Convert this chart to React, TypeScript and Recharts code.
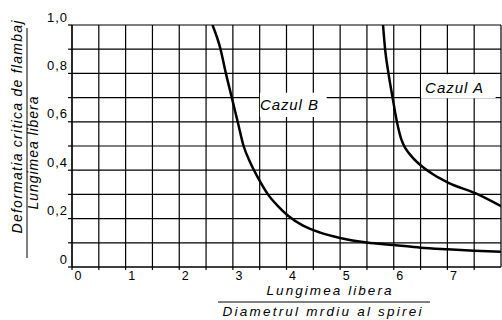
import React from 'react';
import {
  ComposedChart,
  Line,
  XAxis,
  YAxis,
  CartesianGrid,
  ReferenceArea,
} from 'recharts';

// grid / tick values
const xTicks = [0, 0.5, 1, 1.5, 2, 2.5, 3, 3.5, 4, 4.5, 5, 5.5, 6, 6.5, 7, 7.5];
const xTickLabels = ['0', '', '1', '', '2', '', '3', '', '4', '', '5', '', '6', '', '7', ''];
const yTicks = [0, 0.1, 0.2, 0.3, 0.4, 0.5, 0.6, 0.7, 0.8, 0.9, 1.0];
const yTickLabels = ['0', '', '0,2', '', '0,4', '', '0,6', '', '0,8', '', '1,0'];

// Cazul B
const caseBX = [2.62, 2.77, 2.87, 2.98, 3.09, 3.2, 3.32, 3.47, 3.66, 3.84, 4.03, 4.31, 4.63, 5.0, 5.5, 6.0, 6.5, 7.0, 7.5, 8.0];
const caseBY = [1.0, 0.9, 0.8, 0.7, 0.6, 0.5, 0.434, 0.368, 0.298, 0.252, 0.212, 0.171, 0.142, 0.12, 0.101, 0.091, 0.08, 0.073, 0.067, 0.063];

// Cazul A
const caseAX = [5.8, 5.84, 5.9, 5.98, 6.06, 6.14, 6.22, 6.34, 6.53, 6.74, 7.02, 7.52, 8.02];
const caseAY = [1.0, 0.897, 0.802, 0.698, 0.599, 0.528, 0.49, 0.455, 0.415, 0.382, 0.348, 0.305, 0.249];

const caseB = caseBX.map((x, i) => ({ x, y: caseBY[i] }));
const caseA = caseAX.map((x, i) => ({ x, y: caseAY[i] }));

const FONT = '"Liberation Sans", Arial, sans-serif';

function XTick({ x, y, index }: any) {
  const label = xTickLabels[index] ?? '';
  if (!label) return null;
  return (
    <text x={x + 6.5} y={y + 8} textAnchor="middle" fontFamily={FONT} fontSize={12.5}
      letterSpacing={1} fill="#000">
      {label}
    </text>
  );
}

function YTick({ x, y, index }: any) {
  const label = yTickLabels[index] ?? '';
  if (!label) return null;
  return (
    <text x={x + 2} y={y - 3.5} textAnchor="end" fontFamily={FONT} fontSize={13}
      letterSpacing={1} fill="#000">
      {label}
    </text>
  );
}

function BoxLabel({ viewBox, text, dx = 0, dy = 6 }: any) {
  if (!viewBox) return null;
  const { x, y, height } = viewBox;
  return (
    <text x={x + dx} y={y + height / 2 + dy} fontFamily={FONT} fontSize={15}
      fontStyle="italic" textLength={58} lengthAdjust="spacing" fill="#000">
      {text}
    </text>
  );
}

export default function App() {
  return (
    <div style={{ position: 'absolute', left: 0, top: 0, width: 502, height: 320, background: '#fff' }}>
      <ComposedChart width={502} height={320} margin={{ top: 25, right: 1, bottom: 0, left: 0 }}>
        <CartesianGrid xAxisId="b" stroke="#000" strokeWidth={1.2} />
        <XAxis
          xAxisId="b"
          type="number"
          dataKey="x"
          domain={[0, 8]}
          ticks={xTicks}
          interval={0}
          height={53}
          tickSize={3}
          tick={<XTick />}
          axisLine={{ stroke: '#000', strokeWidth: 1.2 }}
          tickLine={{ stroke: '#000', strokeWidth: 1.2 }}
          allowDataOverflow
        />
        <XAxis
          xAxisId="t"
          orientation="top"
          type="number"
          domain={[0, 8]}
          ticks={xTicks}
          interval={0}
          height={0}
          tickSize={3}
          tick={false}
          axisLine={false}
          tickLine={{ stroke: '#000', strokeWidth: 1.2 }}
        />
        <YAxis
          type="number"
          domain={[0, 1]}
          ticks={yTicks}
          interval={0}
          width={72}
          tickSize={4}
          tick={<YTick />}
          axisLine={{ stroke: '#000', strokeWidth: 1.2 }}
          tickLine={{ stroke: '#000', strokeWidth: 1.2 }}
          allowDataOverflow
        />
        <ReferenceArea xAxisId="b" x1={3.505} x2={4.75} y1={0.62} y2={0.72}
          fill="#fff" fillOpacity={1} stroke="none" ifOverflow="visible"
          label={<BoxLabel text="Cazul B" dx={0} dy={5.5} />} />
        <ReferenceArea xAxisId="b" x1={6.51} x2={7.9} y1={0.697} y2={0.797}
          fill="#fff" fillOpacity={1} stroke="none" ifOverflow="visible"
          label={<BoxLabel text="Cazul A" dx={4} dy={6.5} />} />
        <Line xAxisId="b" data={caseB} dataKey="y" type="monotone" stroke="#000" strokeWidth={2.5}
          dot={false} activeDot={false} isAnimationActive={false} />
        <Line xAxisId="b" data={caseA} dataKey="y" type="monotone" stroke="#000" strokeWidth={2.5}
          dot={false} activeDot={false} isAnimationActive={false} />
      </ComposedChart>
      <svg width={502} height={320} style={{ position: 'absolute', left: 0, top: 0, pointerEvents: 'none' }}>
        <g fontFamily={FONT} fontStyle="italic" fill="#000">
          <text transform="translate(22,127) rotate(-90)" textAnchor="middle" fontSize={14}
            textLength={213} lengthAdjust="spacing">Deformatia critica de flambaj</text>
          <line x1={27} y1={28} x2={27} y2={258} stroke="#000" strokeWidth={1} />
          <text transform="translate(38,153) rotate(-90)" textAnchor="middle" fontSize={14}
            textLength={113} lengthAdjust="spacing">Lungimea libera</text>
          <text x={329} y={295} textAnchor="middle" fontSize={13.5}
            textLength={125} lengthAdjust="spacing">Lungimea libera</text>
          <line x1={218} y1={302} x2={430} y2={302} stroke="#000" strokeWidth={1} />
          <text x={322} y={316} textAnchor="middle" fontSize={13.5}
            textLength={199} lengthAdjust="spacing">Diametrul mrdiu al spirei</text>
        </g>
      </svg>
    </div>
  );
}
